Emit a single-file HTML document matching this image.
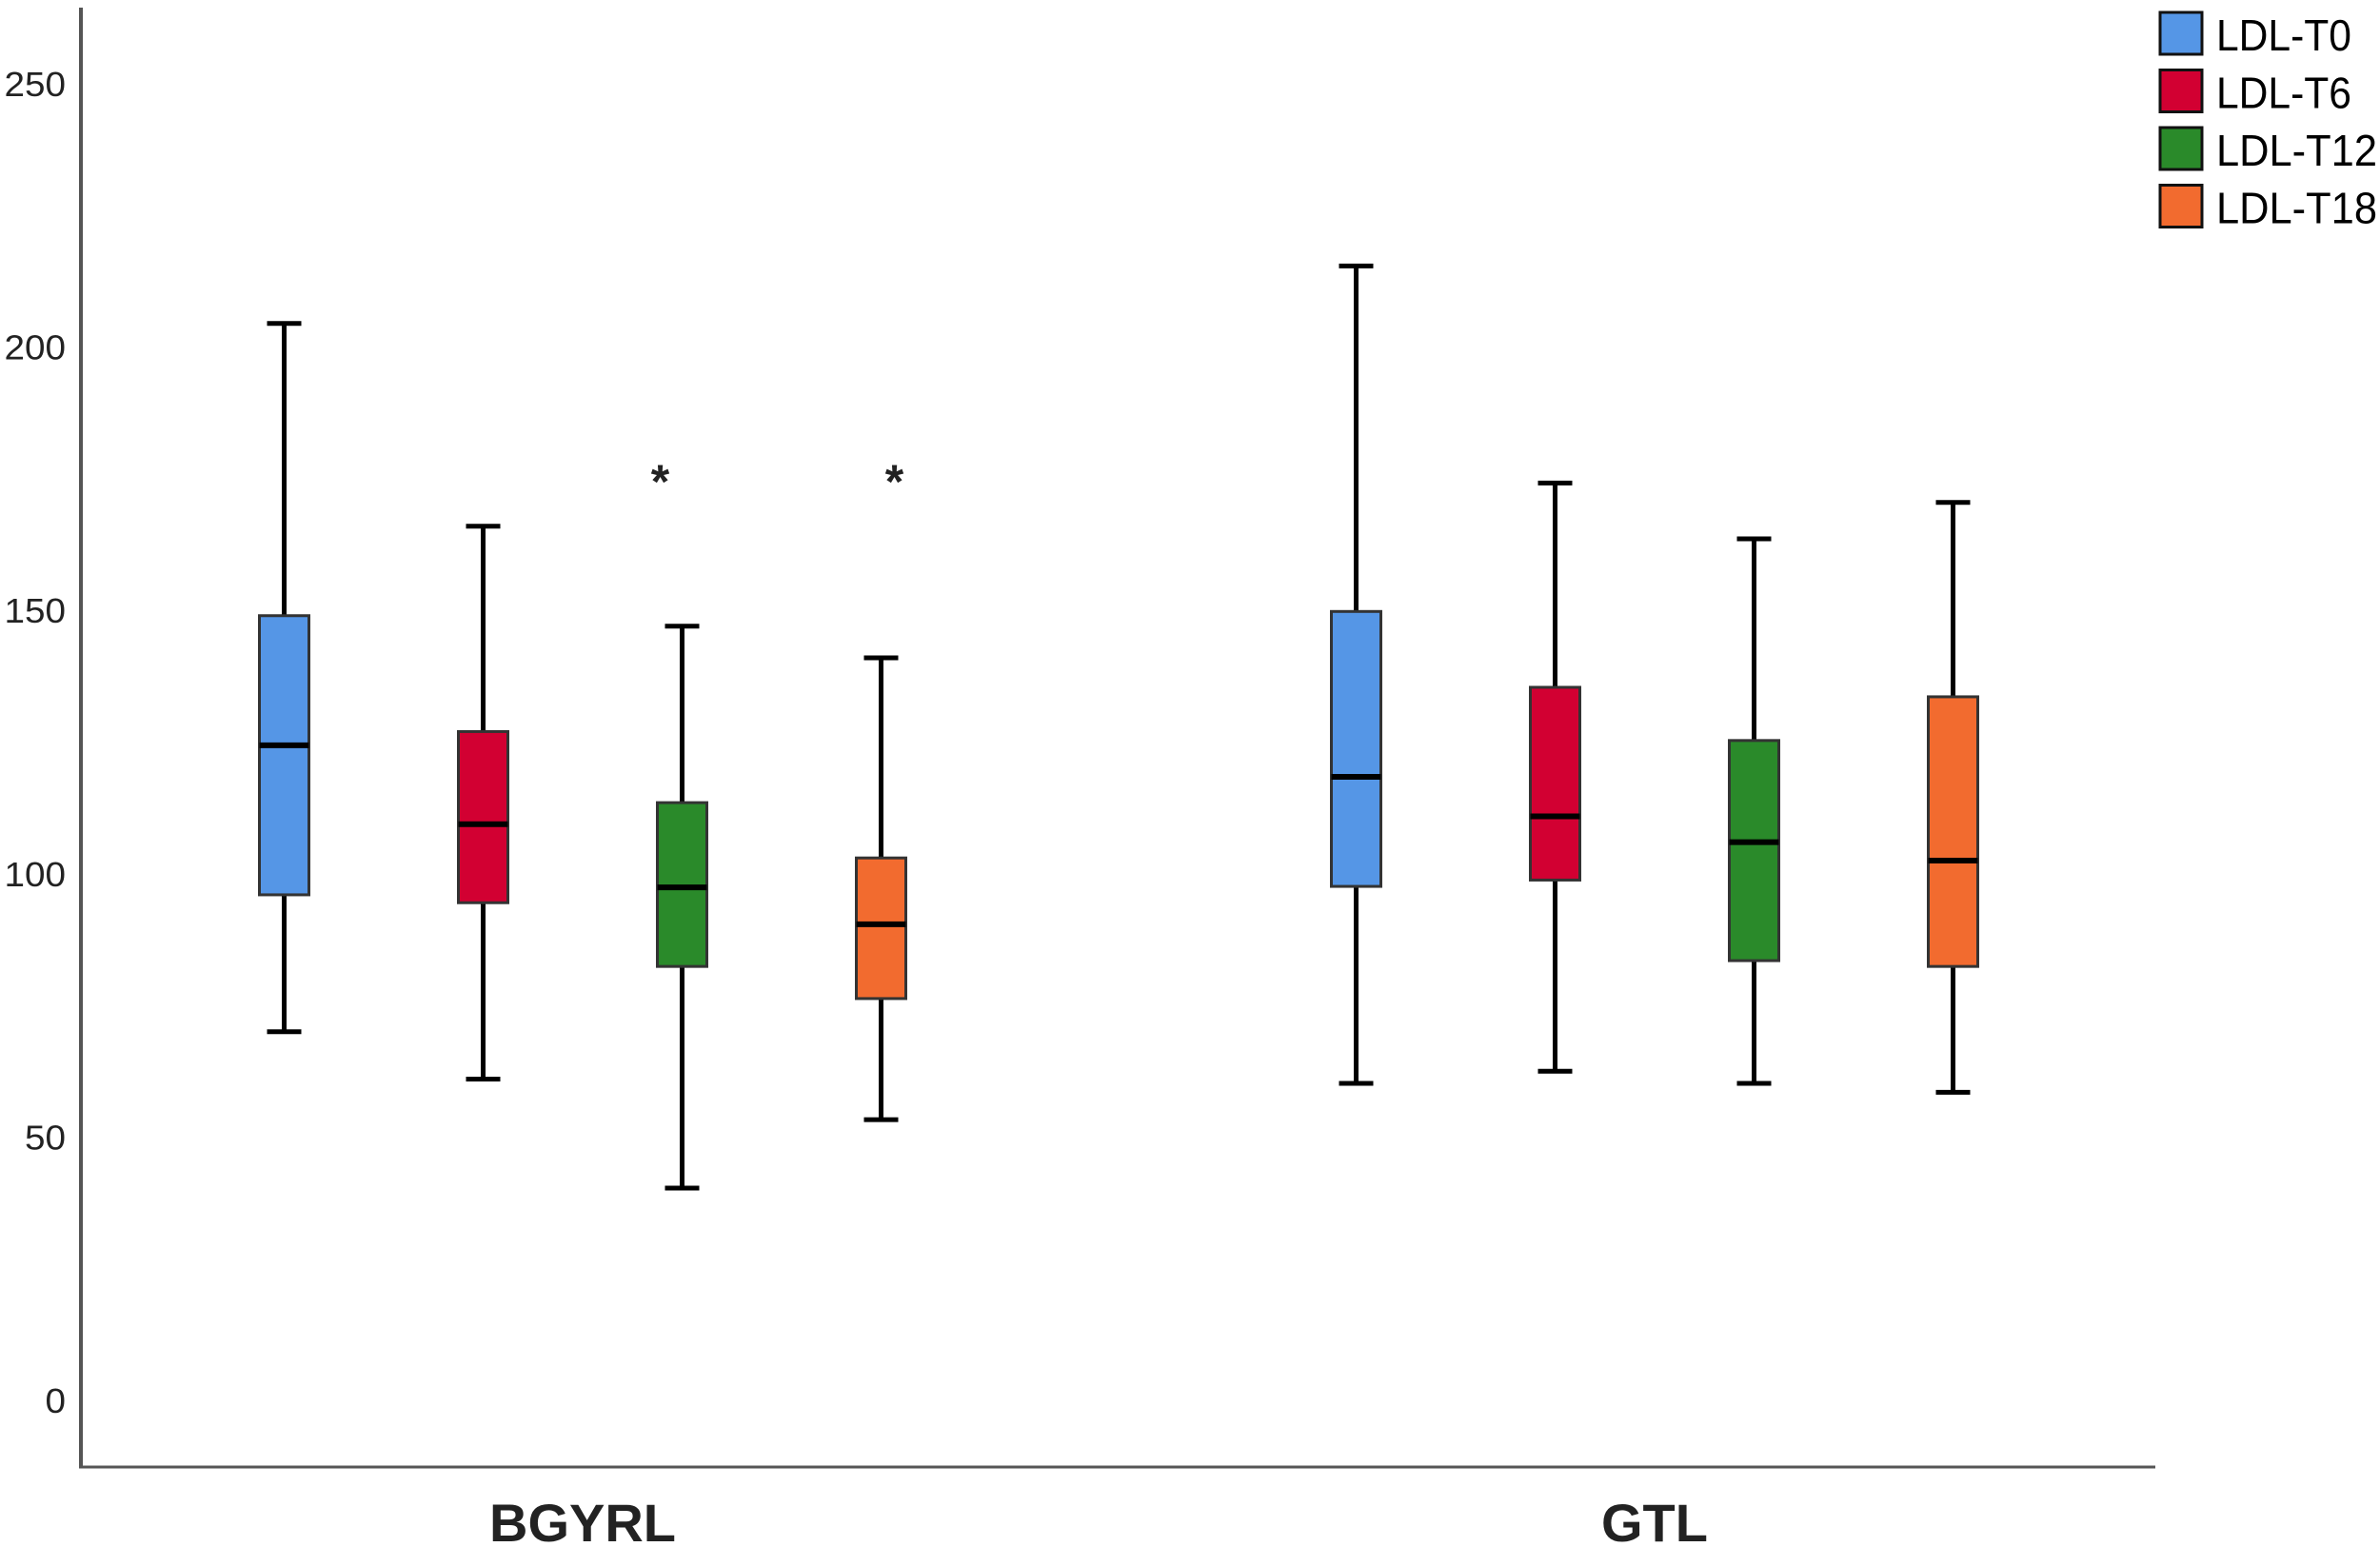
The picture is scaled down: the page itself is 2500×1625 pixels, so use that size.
<!DOCTYPE html>
<html><head><meta charset="utf-8"><style>
html,body{margin:0;padding:0;background:#fff;}
svg{display:block;font-family:"Liberation Sans",Arial,sans-serif;}
</style></head><body>
<svg id="chart" width="2500" height="1625" viewBox="0 0 2500 1625"></svg>
<script>
const groups = ["BGYRL", "GTL"];
const series = ["LDL-T0", "LDL-T6", "LDL-T12", "LDL-T18"];
const colors = ["#5596e6", "#d20032", "#2a8a2a", "#f26b2f"];
const yTicks = [0, 50, 100, 150, 200, 250];
// [min, q1, median, q3, max] per group per series
const bgyrlStats = [
  [70, 96, 124.4, 149, 204.5],
  [61, 94.5, 109.4, 127, 166],
  [40.3, 82.4, 97.4, 113.5, 147],
  [53.3, 76.3, 90.4, 103, 141]
];
const gtlStats = [
  [60.2, 97.6, 118.4, 149.8, 215.4],
  [62.5, 98.8, 110.9, 135.4, 174.2],
  [60.2, 83.5, 106, 125.3, 163.6],
  [58.5, 82.4, 102.5, 133.6, 170.5]
];
const bgyrlOutliers = [[], [], [176.4], [176.4]];
const gtlOutliers = [[], [], [], []];

const stats = [bgyrlStats, gtlStats];
const outliers = [bgyrlOutliers, gtlOutliers];
const starOffset = [-23, -23, -23, 14];
const NS = "http://www.w3.org/2000/svg";
const svg = document.getElementById("chart");
const y = v => 1471 - v * (1471 - 88) / 250;
const groupCenter = g => 612 + g * 1126;
const boxX = (g, s) => groupCenter(g) + (s - 1.5) * 209;
function mk(tag, attrs, parent) {
  const e = document.createElementNS(NS, tag);
  for (const k in attrs) e.setAttribute(k, attrs[k]);
  (parent || svg).appendChild(e);
  return e;
}
let ax = mk("line", {x1: 85, y1: 8, x2: 85, y2: 1542, stroke: "#555", "stroke-width": 4});


ax = mk("line", {x1: 83, y1: 1541, x2: 2264, y2: 1541, stroke: "#555", "stroke-width": 3});


yTicks.forEach(t => {
  const s = String(t);
  const w = s.length * 21.5;
  const tx = mk("text", {x: 69, y: y(t) + 13, "text-anchor": "end", "font-size": 36, fill: "#222", textLength: w, lengthAdjust: "spacingAndGlyphs"});
  tx.textContent = s;
  
  
});
groups.forEach((gname, g) => {
  const tx = mk("text", {x: groupCenter(g), y: 1619, "text-anchor": "middle", "font-size": 56, "font-weight": "bold", fill: "#222"});
  tx.textContent = gname;
  
  
  series.forEach((sname, s) => {
    const [mn, q1, md, q3, mx] = stats[g][s];
    const cx = boxX(g, s);
    const grp = mk("g", {});
    
    
    mk("line", {x1: cx, y1: y(mx), x2: cx, y2: y(mn), stroke: "#000", "stroke-width": 5}, grp);
    mk("line", {x1: cx - 18, y1: y(mx), x2: cx + 18, y2: y(mx), stroke: "#000", "stroke-width": 5}, grp);
    mk("line", {x1: cx - 18, y1: y(mn), x2: cx + 18, y2: y(mn), stroke: "#000", "stroke-width": 5}, grp);
    mk("rect", {x: cx - 26, y: y(q3), width: 52, height: y(q1) - y(q3), fill: colors[s], stroke: "#333", "stroke-width": 3}, grp);
    mk("line", {x1: cx - 26, y1: y(md), x2: cx + 26, y2: y(md), stroke: "#000", "stroke-width": 6}, grp);
    outliers[g][s].forEach(o => {
      const st = mk("text", {x: cx + starOffset[s], y: y(o) + 28, "text-anchor": "middle", "font-size": 50, "font-weight": "bold", fill: "#222"});
      st.textContent = "*";
      
      
    });
  });
});
series.forEach((sname, s) => {
  const ly = 12 + s * 60.5;
  const lg = mk("g", {});
  
  
  mk("rect", {x: 2269, y: ly + 1, width: 44, height: 44, fill: colors[s], stroke: "#111", "stroke-width": 3}, lg);
  const t = mk("text", {x: 2328, y: ly + 41, "font-size": 46, fill: "#000", textLength: sname.length > 6 ? 169 : 142, lengthAdjust: "spacingAndGlyphs"}, lg);
  t.textContent = sname;
});
</script>
</body></html>
